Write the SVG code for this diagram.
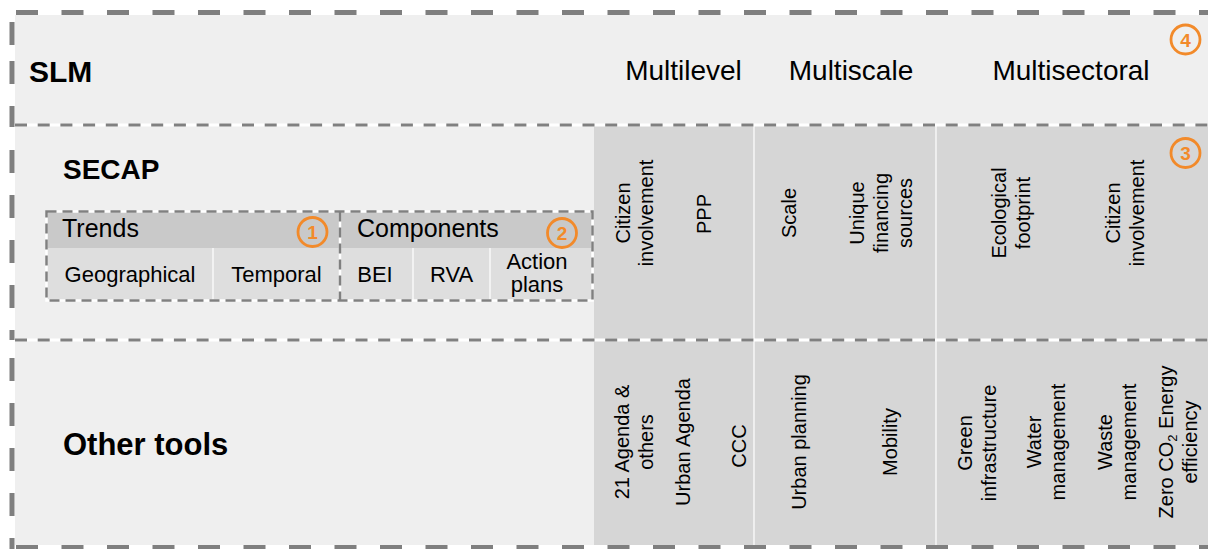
<svg xmlns="http://www.w3.org/2000/svg" width="1208" height="549" viewBox="0 0 1208 549">
  <style>
    text { font-family: "Liberation Sans", Arial, sans-serif; fill: #000; }
    .title { font-size: 30px; font-weight: bold; }
    .axis { font-size: 28px; text-anchor: middle; }
    .hdr { font-size: 25px; }
    .cell { font-size: 22px; text-anchor: middle; }
    .vt { font-size: 20px; text-anchor: middle; }
    .num { font-size: 19px; font-weight: bold; fill: #f28a2a; text-anchor: middle; }
    .ring { fill: none; stroke: #f28a2a; stroke-width: 2.8; }
    .outer { fill: none; stroke: #7f7f7f; stroke-width: 5; }
    .row-base { stroke: #ffffff; stroke-width: 3; }
    .row-dash { stroke: #808080; stroke-width: 3; stroke-dasharray: 12 10.7; }
    .box-base { fill: none; stroke: #ffffff; stroke-width: 2.5; }
    .box-dash { fill: none; stroke: #808080; stroke-width: 2.5; stroke-dasharray: 10 6; }
    .sep { stroke: #ffffff; stroke-width: 1.2; }
  </style>

  <!-- page and panel background -->
  <rect x="0" y="0" width="1208" height="549" fill="#ffffff"/>
  <rect x="15" y="15" width="1193" height="530" fill="#efefef"/>

  <!-- grey attribute columns for SECAP and Other tools -->
  <rect x="594" y="125" width="614" height="420" fill="#d6d6d6"/>
  <line class="sep" x1="754" y1="125" x2="754" y2="545"/>
  <line class="sep" x1="936" y1="125" x2="936" y2="545"/>

  <!-- row dividers -->
  <g id="row-dividers">
    <line class="row-base" x1="15" y1="125" x2="1208" y2="125"/>
    <line class="row-dash" x1="15" y1="125" x2="1208" y2="125"/>
    <line class="row-base" x1="15" y1="340" x2="1208" y2="340"/>
    <line class="row-dash" x1="15" y1="340" x2="1208" y2="340"/>
  </g>

  <!-- outer dashed frame -->
  <g id="frame">
    <line class="outer" x1="16" y1="12.5" x2="1208" y2="12.5" stroke-dasharray="22 23.5"/>
    <line class="outer" x1="16" y1="547.5" x2="1208" y2="547.5" stroke-dasharray="22 23.5"/>
    <line class="outer" x1="12" y1="22" x2="12" y2="128" stroke-dasharray="23 16 23 22 21 40"/>
    <line class="outer" x1="12" y1="150" x2="12" y2="340" stroke-dasharray="23 22"/>
    <line class="outer" x1="12" y1="358" x2="12" y2="549" stroke-dasharray="23 22"/>
  </g>

  <!-- SLM row -->
  <g id="slm">
    <text class="title" x="29" y="82">SLM</text>
    <text class="axis" x="683.5" y="80">Multilevel</text>
    <text class="axis" x="851" y="80">Multiscale</text>
    <text class="axis" x="1071" y="80">Multisectoral</text>
    <circle class="ring" cx="1185.5" cy="39.5" r="14.5"/>
    <text class="num" x="1185.5" y="46.5">4</text>
  </g>

  <!-- SECAP row -->
  <g id="secap">
    <text class="title" x="63" y="179" style="font-size:28px">SECAP</text>
    <circle class="ring" cx="1185.5" cy="153" r="14.5"/>
    <text class="num" x="1185.5" y="160">3</text>

    <text class="vt" transform="translate(629.5,213) rotate(-90)">Citizen</text>
    <text class="vt" transform="translate(653,213) rotate(-90)">involvement</text>
    <text class="vt" transform="translate(711,214) rotate(-90)">PPP</text>
    <text class="vt" transform="translate(796,213) rotate(-90)">Scale</text>
    <text class="vt" transform="translate(864,213) rotate(-90)">Unique</text>
    <text class="vt" transform="translate(888,213) rotate(-90)">financing</text>
    <text class="vt" transform="translate(912,213) rotate(-90)">sources</text>
    <text class="vt" transform="translate(1006,213) rotate(-90)">Ecological</text>
    <text class="vt" transform="translate(1030,213) rotate(-90)">footprint</text>
    <text class="vt" transform="translate(1120,213) rotate(-90)">Citizen</text>
    <text class="vt" transform="translate(1144,213) rotate(-90)">involvement</text>
  </g>

  <!-- Trends box -->
  <g id="trends">
    <rect x="47" y="212" width="293" height="36" fill="#c9c9c9"/>
    <rect x="47" y="248" width="293" height="52" fill="#dedede"/>
    <line class="sep" x1="213" y1="248" x2="213" y2="300"/>
    <text class="hdr" x="62" y="237">Trends</text>
    <circle class="ring" cx="312.5" cy="232" r="14.5"/>
    <text class="num" x="312.5" y="239">1</text>
    <text class="cell" x="130" y="282">Geographical</text>
    <text class="cell" x="276.5" y="282">Temporal</text>
  </g>

  <!-- Components box -->
  <g id="components">
    <rect x="340" y="212" width="252" height="36" fill="#c9c9c9"/>
    <rect x="340" y="248" width="252" height="52" fill="#dedede"/>
    <line class="sep" x1="413" y1="248" x2="413" y2="300"/>
    <line class="sep" x1="490" y1="248" x2="490" y2="300"/>
    <text class="hdr" x="357" y="237">Components</text>
    <circle class="ring" cx="562" cy="233" r="14.5"/>
    <text class="num" x="562" y="240">2</text>
    <text class="cell" x="375" y="282">BEI</text>
    <text class="cell" x="451.5" y="282">RVA</text>
    <text class="cell" x="537" y="269">Action</text>
    <text class="cell" x="537" y="292">plans</text>
  </g>

  <!-- dashed outlines of the two boxes -->
  <g id="box-outlines">
    <rect class="box-base" x="46.5" y="211.5" width="546" height="89"/>
    <line class="box-base" x1="340" y1="211.5" x2="340" y2="300.5"/>
    <rect class="box-dash" x="46.5" y="211.5" width="546" height="89"/>
    <line class="box-dash" x1="340" y1="211.5" x2="340" y2="300.5"/>
  </g>

  <!-- Other tools row -->
  <g id="other-tools">
    <text class="title" x="63" y="455" style="font-size:31px">Other tools</text>

    <text class="vt" transform="translate(629,442) rotate(-90)">21 Agenda &amp;</text>
    <text class="vt" transform="translate(653,442) rotate(-90)">others</text>
    <text class="vt" transform="translate(689.5,442) rotate(-90)">Urban Agenda</text>
    <text class="vt" transform="translate(746,446) rotate(-90)">CCC</text>
    <text class="vt" transform="translate(806,442) rotate(-90)">Urban planning</text>
    <text class="vt" transform="translate(897,442) rotate(-90)">Mobility</text>
    <text class="vt" transform="translate(972,443) rotate(-90)">Green</text>
    <text class="vt" transform="translate(995.5,443) rotate(-90)">infrastructure</text>
    <text class="vt" transform="translate(1041,442) rotate(-90)">Water</text>
    <text class="vt" transform="translate(1064.5,442) rotate(-90)">management</text>
    <text class="vt" transform="translate(1112,442) rotate(-90)">Waste</text>
    <text class="vt" transform="translate(1135.5,442) rotate(-90)">management</text>
    <text class="vt" transform="translate(1173,442) rotate(-90)">Zero CO<tspan font-size="13" dy="4">2</tspan><tspan dy="-4"> Energy</tspan></text>
    <text class="vt" transform="translate(1197,442) rotate(-90)">efficiency</text>
  </g>
</svg>
